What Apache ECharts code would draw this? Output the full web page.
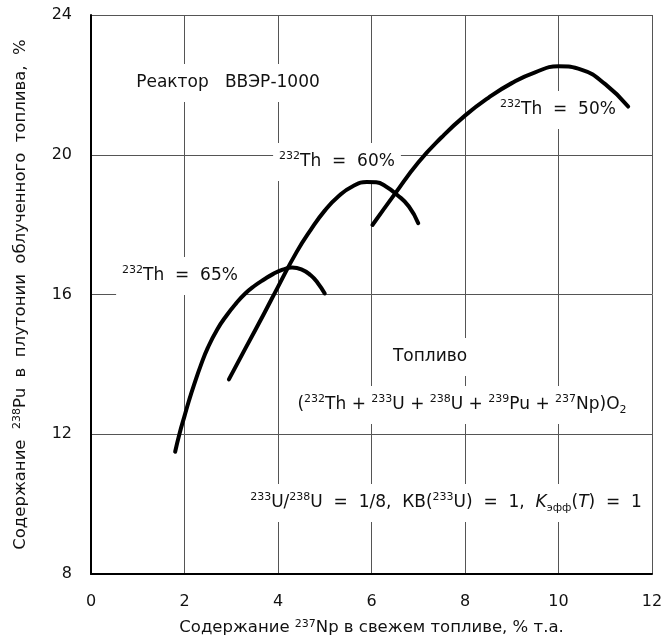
<!DOCTYPE html>
<html>
<head>
<meta charset="utf-8">
<script src="https://cdn.jsdelivr.net/npm/echarts@6/dist/echarts.min.js"></script>
<style>
  html, body { margin: 0; padding: 0; background: #fff; }
  #chart { width: 667px; height: 642px; }
</style>
</head>
<body>
<div id="chart"></div>
<script>
// Th-232 = 65%
const th65X = [1.80, 1.90, 2.00, 2.10, 2.20, 2.35, 2.50, 2.70, 2.90, 3.10, 3.30, 3.50, 3.70, 3.90, 4.10, 4.30, 4.50, 4.70, 4.85, 5.00]
const th65Y = [11.50, 12.05, 12.52, 12.98, 13.40, 13.98, 14.48, 15.00, 15.40, 15.74, 16.03, 16.25, 16.43, 16.59, 16.71, 16.77, 16.72, 16.55, 16.33, 16.03]
// Th-232 = 60%
const th60X = [2.95, 3.30, 3.70, 4.00, 4.40, 4.70, 5.00, 5.30, 5.60, 5.90, 6.10, 6.30, 6.55, 6.80, 7.00]
const th60Y = [13.57, 14.45, 15.45, 16.22, 17.22, 17.85, 18.40, 18.82, 19.10, 19.22, 19.21, 19.10, 18.85, 18.52, 18.04]
// Th-232 = 50%
const th50X = [6.02, 6.50, 7.00, 7.50, 8.00, 8.50, 9.00, 9.50, 10.00, 10.50, 11.00, 11.49]
const th50Y = [17.99, 18.88, 19.78, 20.50, 21.12, 21.63, 22.05, 22.36, 22.53, 22.43, 22.02, 21.38]

const xMin = 0, xMax = 12, xStep = 2
const yMin = 8, yMax = 24, yStep = 4

const font = 'DejaVu Sans'
const rich = {
  sup: { fontSize: 11, fontFamily: font, lineHeight: 14, verticalAlign: 'top', fill: '#111', color: '#111' },
  sub: { fontSize: 11, fontFamily: font, lineHeight: 12, verticalAlign: 'bottom', fill: '#111', color: '#111' },
  it: { fontSize: 17, fontFamily: font, fontStyle: 'italic', fill: '#111', color: '#111' }
}

function pairs(xs, ys) {
  return xs.map((x, i) => [x, ys[i]])
}

function curve(name, xs, ys) {
  return {
    name: name,
    type: 'line',
    z: 10,
    data: pairs(xs, ys),
    smooth: 0.5,
    showSymbol: false,
    symbol: 'none',
    silent: true,
    lineStyle: { color: '#000', width: 4, cap: 'round' }
  }
}

function note(text, x, y) {
  return {
    type: 'text',
    z: 5,
    x: x,
    y: y,
    style: {
      text: text,
      fontSize: 17,
      fontFamily: font,
      lineHeight: 22,
      fill: '#111',
      align: 'center',
      verticalAlign: 'middle',
      textAlign: 'center',
      textVerticalAlign: 'middle',
      backgroundColor: '#fff',
      padding: [8, 6],
      rich: rich
    }
  }
}

const chart = echarts.init(document.getElementById('chart'))

chart.setOption({
  animation: false,
  backgroundColor: '#fff',
  grid: { left: 91, top: 15, right: 15, bottom: 68 },
  xAxis: {
    type: 'value',
    min: xMin,
    max: xMax,
    interval: xStep,
    name: 'Содержание {sup|237}Np в свежем топливе, % т.а.',
    nameLocation: 'middle',
    nameGap: 45,
    nameTextStyle: { fontSize: 16.5, fontFamily: font, color: '#111', rich: rich },
    axisLine: { lineStyle: { color: '#000', width: 2 } },
    axisTick: { show: false },
    axisLabel: { fontSize: 16, fontFamily: font, color: '#111', margin: 20 },
    splitLine: { lineStyle: { color: '#555', width: 1 } }
  },
  yAxis: {
    type: 'value',
    min: yMin,
    max: yMax,
    interval: yStep,
    name: 'Содержание  {sup|238}Pu  в  плутонии  облученного  топлива,  %',
    nameLocation: 'middle',
    nameGap: 62,
    nameTextStyle: { fontSize: 16.5, fontFamily: font, color: '#111', rich: rich },
    axisLine: { lineStyle: { color: '#000', width: 2 } },
    axisTick: { show: false },
    axisLabel: { fontSize: 16, fontFamily: font, color: '#111', margin: 19 },
    splitLine: { lineStyle: { color: '#555', width: 1 } }
  },
  series: [
    curve('232Th = 65%', th65X, th65Y),
    curve('232Th = 60%', th60X, th60Y),
    curve('232Th = 50%', th50X, th50Y)
  ],
  graphic: [
    note('Реактор   ВВЭР-1000', 228, 83),
    note('{sup|232}Th  =  60%', 337, 162),
    note('{sup|232}Th  =  50%', 558, 110),
    note('{sup|232}Th  =  65%', 180, 276),
    note('Топливо', 430, 357),
    note('({sup|232}Th + {sup|233}U + {sup|238}U + {sup|239}Pu + {sup|237}Np)O{sub|2}', 462, 405),
    note('{sup|233}U/{sup|238}U  =  1/8,  КВ({sup|233}U)  =  1,  {it|K}{sub|эфф}({it|T})  =  1', 446, 503)
  ]
})
</script>
</body>
</html>
